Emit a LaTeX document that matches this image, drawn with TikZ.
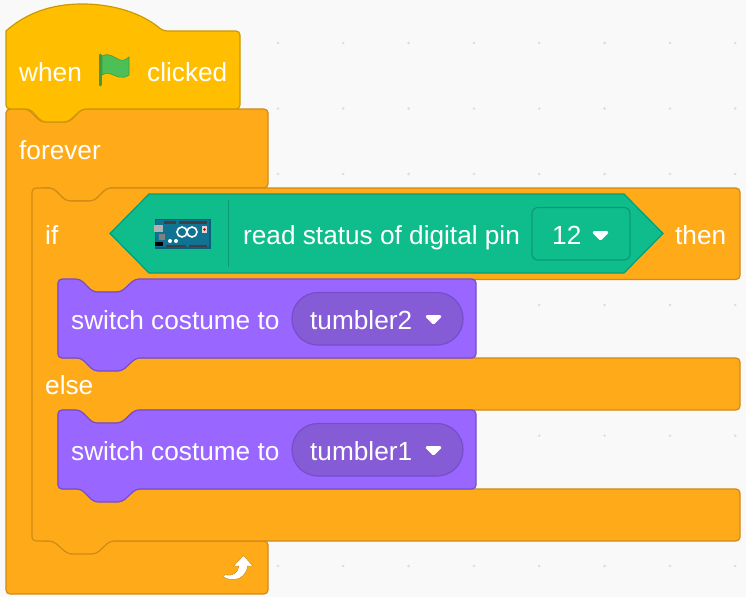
\documentclass[tikz,border=0pt]{standalone}
\usepackage{xcolor}
\usepackage{fontspec}
\setmainfont{Liberation Sans}
\definecolor{canvas}{HTML}{F9F9F9}
\definecolor{griddot}{HTML}{DDDDDD}
\definecolor{hatfill}{HTML}{FFBF00}
\definecolor{hatline}{HTML}{CC9900}
\definecolor{ctrlfill}{HTML}{FFAB19}
\definecolor{ctrlline}{HTML}{CF8B17}
\definecolor{looksfill}{HTML}{9966FF}
\definecolor{looksline}{HTML}{774DCB}
\definecolor{looksdark}{HTML}{855CD6}
\definecolor{sensefill}{HTML}{0FBD8C}
\definecolor{senseline}{HTML}{0B9A72}
\definecolor{flagfill}{HTML}{4CBF56}
\definecolor{flagline}{HTML}{45993D}
\definecolor{boardfill}{HTML}{0F7391}
\definecolor{boardline}{HTML}{0A6079}
\tikzset{
   hatblock/.style={fill=hatfill,draw=hatline,line width=1.2pt,rounded corners=4pt},
   ctrlblock/.style={fill=ctrlfill,draw=ctrlline,line width=1.2pt,rounded corners=4pt},
   looksblock/.style={fill=looksfill,draw=looksline,line width=1.2pt,rounded corners=4pt},
   sensehex/.style={fill=sensefill,draw=senseline,line width=1.2pt,line join=miter},
   menubox/.style={fill=sensefill,draw=senseline,line width=1.2pt,rounded corners=6pt},
   menuoval/.style={fill=looksdark,draw=looksline,line width=1.2pt,rounded corners=26pt},
   menuarrow/.style={fill=white,draw=white,line width=2.6pt,line join=round},
   lbl/.style={text=white,anchor=base west,inner sep=0pt,font=\fontsize{26.2}{30}\selectfont}
}
\begin{document}
\begin{tikzpicture}[x=1pt,y=-1pt]
   \useasboundingbox[fill=canvas] (0,0) rectangle (746,597);
   \foreach \dx in {278,343.3,408.6,474,539.3,604.6,670,735.3}
      \foreach \dy in {43,108.5,174,239.5,305,370.5,435.7,501,566}
         \fill[griddot] (\dx,\dy) circle (1.4pt);

   \draw[ctrlblock] (6,109) -- (28,109) -- (41,122) -- (69,122) -- (82,109) -- (268,109) -- (268,188) -- (107,188)
      -- (94,201) -- (66,201) -- (53,188) -- (40,188) -- (40,541) -- (268,541) -- (268,594) -- (6,594) -- cycle;
   \draw[hatblock] (6,109) -- (30,109) -- (42,122) -- (68,122) -- (82,109) -- (240,109) -- (240,31) -- (163,31)
      [sharp corners] .. controls (143,14) and (115,4) .. (82,4) .. controls (50,4) and (25,14) .. (6,31) [rounded corners=4pt] -- cycle;
   \draw[ctrlblock] (32,188) -- (53,188) -- (66,201) -- (94,201) -- (107,188) -- (740,188) -- (740,279.5) -- (135,279.5)
      -- (121,292) -- (93,292) -- (80,279.5) -- (58,279.5) -- (58,358) -- (740,358) -- (740,410) -- (135,410)
      -- (121,423) -- (93,423) -- (80,410) -- (58,410) -- (58,489) -- (740,489) -- (740,541)
      -- (110,541) -- (96,554) -- (68,554) -- (53,541) -- (32,541) -- cycle;

   \draw[sensehex] (110,233.5) -- (149,194) -- (624,194) -- (663,233.5) -- (624,273) -- (149,273) -- cycle;
   \draw[senseline,line width=1pt] (228,200) -- (228,267);
   \draw[menubox] (532,207.5) rectangle (630,260);

   \draw[looksblock] (58,279) -- (80,279) -- (93,292) -- (121,292) -- (135,279) -- (476,279) -- (476,358) -- (136,358)
      -- (122,371) -- (94,371) -- (81,358) -- (58,358) -- cycle;
   \draw[menuoval] (292,292.5) rectangle (463,345);
   \draw[looksblock] (58,410) -- (80,410) -- (93,423) -- (121,423) -- (135,410) -- (476,410) -- (476,489) -- (136,489)
      -- (122,502) -- (94,502) -- (81,489) -- (58,489) -- cycle;
   \draw[menuoval] (292,423.5) rectangle (463,476);

   \node[lbl] (when) at (19,81) {when};
   \node[lbl] (clicked) at (147,81) {clicked};
   \node[lbl] (forever) at (19,159) {forever};
   \node[lbl] (if) at (45,244) {if};
   \node[lbl] (read) at (243,244) {read status of digital pin};
   \node[lbl] (pin) at (552,244) {12};
   \node[lbl] (then) at (675,244) {then};
   \node[lbl] (switchA) at (71,329) {switch costume to};
   \node[lbl] (costumeA) at (310,329) {tumbler2};
   \node[lbl] (else) at (45,394) {else};
   \node[lbl] (switchB) at (71,460) {switch costume to};
   \node[lbl] (costumeB) at (310,460) {tumbler1};

   \draw[menuarrow] (594,232.5) -- (607,232.5) -- (600.5,239) -- cycle;
   \draw[menuarrow] (427,316.5) -- (440,316.5) -- (433.5,323) -- cycle;
   \draw[menuarrow] (427,447.5) -- (440,447.5) -- (433.5,454) -- cycle;

   \draw[fill=flagfill,draw=flagline,line width=.6pt] (102,56) .. controls (110,52) and (114,58) .. (120,60)
      .. controls (124,61) and (127,59) .. (129,57) -- (129,75) .. controls (122,80) and (116,76) .. (111,74)
      .. controls (107,73) and (104,73) .. (102,75) -- cycle;
   \draw[flagline,line width=3pt,line cap=round] (100.5,55) -- (100.5,85);

   \draw[fill=white,draw=ctrlline,line width=.5pt,line join=round] (243.5,555.5) -- (253,566) -- (247.5,566)
      .. controls (247,576) and (236,584) .. (223,577) -- (225,574.5) .. controls (232,577) and (238,573) .. (239,566)
      -- (233.5,566) -- cycle;

   \fill[boardline] (155,219) rectangle (210.5,248.5);
   \fill[boardfill] (156,220) rectangle (209,247);
   \fill[black!75] (164,221) rectangle (176,223.5);
   \fill[black!75] (179,221) rectangle (207,223.5);
   \fill[black!75] (166,244.5) rectangle (186,247);
   \fill[black!75] (189,244.5) rectangle (207,247);
   \fill[black!30] (154,225) rectangle (163,232);
   \fill[black] (154.5,241.5) rectangle (163,246);
   \fill[black!50] (159,234) rectangle (165,240);
   \draw[white,line width=1.6pt] (182,232) circle (5pt) (192,232) circle (5pt);
   \fill[white] (170,241) circle (2pt) (176,241) circle (2pt);
   \fill[black!15] (202,226) rectangle (207,233);
   \fill[red!70!black] (204.5,229.5) circle (1.3pt);
\end{tikzpicture}
\end{document}
